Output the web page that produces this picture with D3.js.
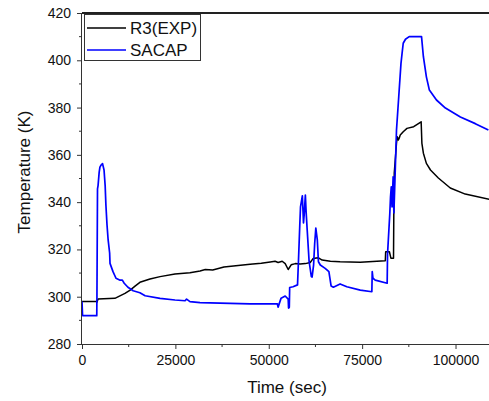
<!DOCTYPE html>
<html><head><meta charset="utf-8">
<script src="https://cdn.jsdelivr.net/npm/d3@7"></script>
<style>
html,body{margin:0;padding:0;background:#fff;}
svg{display:block;font-family:"Liberation Sans",Arial,sans-serif;}
</style></head>
<body>
<svg id="chart" width="489" height="401"></svg>
<script>
// Data (time in sec, temperature in K)
const seriesNames = ["R3(EXP)", "SACAP"];
const seriesColors = ["#000000", "#0000ff"];
const r3Time = [0,3900,4000,4300,8800,11500,12900,14200,15500,18200,20900,24900,28900,31600,33000,35000,38000,45000,48000,50400,51700,52500,53600,54400,55200,56000,57100,58400,59800,61100,61900,63200,64300,66500,69100,74500,81200,81300,82300,82700,83400,83500,83600,84200,84400,84700,85000,85200,86000,87000,88800,90800,91000,91400,92200,93300,95400,98600,102600,109000];
const r3Temp = [298,298,297.7,299,299.3,301.4,302.8,304.5,306.1,307.5,308.5,309.6,310.1,310.9,311.5,311.3,312.6,313.7,314.2,314.7,315,314.5,315,314,311.5,313.5,314,313.8,314,314.5,316.2,316.5,315.5,315,314.8,314.6,315.2,319,319,316.3,316.3,340,352.3,364.9,367.7,366.3,367.4,368.4,369.8,371.2,371.9,374,364.9,360.7,356.4,353.6,350.2,346,343.4,341.2];
const sacapTime = [0,150,3950,4000,4150,4300,4600,4800,5100,5500,5900,6200,6400,6700,7000,7400,7500,8300,9100,10200,10800,11300,12300,13700,15500,16900,20900,24900,27600,28000,28900,31600,45000,52300,52500,53300,54400,55200,55300,55500,55600,56500,57700,57950,58300,58500,59000,59300,59500,59800,60000,60300,60800,61400,61600,62000,62300,62600,63000,63300,63800,65100,66100,66700,67300,69100,70900,74500,77600,77700,77900,78500,81700,81800,82400,82600,82800,83000,83300,83500,83700,84200,84800,85400,85700,86000,86600,87600,90900,91400,92200,93000,94900,97300,101300,105300,108800];
const sacapTemp = [298,292,292,300,345.6,347,352.7,354.8,355.7,356.3,353.6,347,338.8,330.3,324,318.5,314.1,310.6,307.8,307,307,305.7,304,302.5,301.7,300.4,299.3,298.6,298.3,299,297.9,297.5,297,297,295.6,299.4,300.3,299,295.2,295.5,303.9,304.2,305,315,330,338,342.7,331.2,335,343,336,328,315,308.5,308.3,313.4,322.6,329,324,314.8,313.4,312,310.6,304.5,304,305.4,304.2,302.8,302.1,310.6,307.8,307,305.7,318,335,342.3,346.5,338,350.7,335.4,345,370.5,384.6,398.7,403,407.2,408.9,410,410,401.5,393,387.4,383.2,379.8,376,373.2,370.5];
const xTicks = [0,25000,50000,75000,100000];
const yTicks = [280,300,320,340,360,380,400,420];

const svg = d3.select("#chart");
const m = {left:82, top:13, right:491, bottom:344};
const x = d3.scaleLinear().domain([0,109500]).range([m.left, m.right]);
const y = d3.scaleLinear().domain([280,420]).range([m.bottom, m.top]);

svg.append("defs").append("clipPath").attr("id","clip")
  .append("rect").attr("x",m.left).attr("y",m.top).attr("width",m.right-m.left).attr("height",m.bottom-m.top);

// minor ticks
const xMinor = d3.range(12500, 109500, 25000);
const yMinor = d3.range(290, 420, 20);

// X axis
const xAxis = svg.append("g").attr("transform",`translate(0,${m.bottom})`)
  .call(d3.axisBottom(x).tickValues(xTicks).tickFormat(d3.format("d")).tickSize(5).tickPadding(6));
xAxis.select(".domain").attr("stroke","#333").attr("d",`M${m.left},0.5H${m.right}`);
xAxis.selectAll(".tick line").attr("stroke","#333");
xAxis.selectAll("text").attr("font-size","14px").attr("fill","#111").attr("font-family","Liberation Sans, Arial, sans-serif");
svg.append("g").selectAll("line").data(xMinor).join("line")
  .attr("x1",d=>x(d)).attr("x2",d=>x(d)).attr("y1",m.bottom).attr("y2",m.bottom+3).attr("stroke","#333");

// Y axis
const yAxis = svg.append("g").attr("transform",`translate(${m.left},0)`)
  .call(d3.axisLeft(y).tickValues(yTicks).tickSize(5).tickPadding(6));
yAxis.select(".domain").attr("stroke","#333").attr("d",`M-0.5,${m.top}V${m.bottom}`);
yAxis.selectAll(".tick line").attr("stroke","#333");
yAxis.selectAll("text").attr("font-size","14px").attr("fill","#111").attr("font-family","Liberation Sans, Arial, sans-serif");
svg.append("g").selectAll("line").data(yMinor).join("line")
  .attr("x1",m.left-3).attr("x2",m.left).attr("y1",d=>y(d)).attr("y2",d=>y(d)).attr("stroke","#333");

// top frame line
svg.append("line").attr("x1",m.left).attr("x2",m.right).attr("y1",m.top).attr("y2",m.top)
  .attr("stroke","#222").attr("stroke-width",1.8);

// lines
const line = d3.line().x(d=>x(d[0])).y(d=>y(d[1]));
const g = svg.append("g").attr("clip-path","url(#clip)");
const sacapData = sacapTime.map((t,i)=>[t,sacapTemp[i]]);
const r3Data = r3Time.map((t,i)=>[t,r3Temp[i]]);
g.append("path").datum(r3Data).attr("d",line).attr("fill","none").attr("stroke",seriesColors[0]).attr("stroke-width",1.5).attr("stroke-linejoin","round");
g.append("path").datum(sacapData).attr("d",line).attr("fill","none").attr("stroke",seriesColors[1]).attr("stroke-width",1.7).attr("stroke-linejoin","round");

// legend
const lg = svg.append("g");
lg.append("rect").attr("x",84.5).attr("y",14.5).attr("width",116).attr("height",46)
  .attr("fill","#fff").attr("stroke","#333").attr("stroke-width",1);
seriesNames.forEach((n,i)=>{
  const yy = 28 + i*22;
  lg.append("line").attr("x1",87).attr("x2",126).attr("y1",yy).attr("y2",yy)
    .attr("stroke",seriesColors[i]).attr("stroke-width",i?1.7:1.5);
  lg.append("text").attr("x",130).attr("y",yy+6).attr("font-size","17px").attr("fill","#111").text(n);
});

// axis titles
svg.append("text").attr("x",287).attr("y",393).attr("text-anchor","middle").attr("font-size","17px").attr("fill","#111").text("Time (sec)");
svg.append("text").attr("transform","translate(30,172) rotate(-90)").attr("text-anchor","middle").attr("font-size","17px").attr("fill","#111").text("Temperature (K)");
</script>
</body></html>
